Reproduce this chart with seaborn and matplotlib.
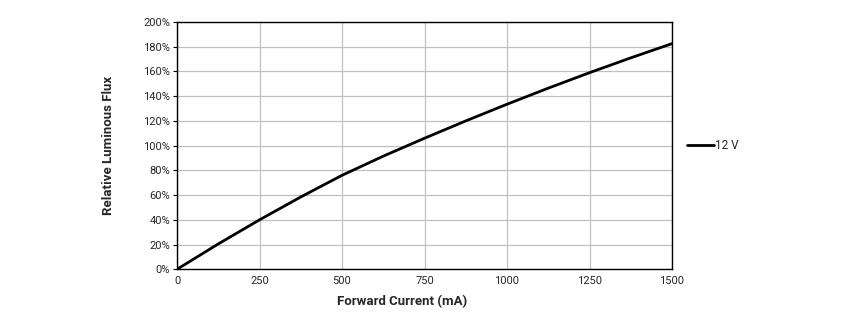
import matplotlib
matplotlib.use("Agg")
import matplotlib.pyplot as plt
import seaborn as sns
import pandas as pd
from matplotlib.ticker import FuncFormatter, MultipleLocator

current_ma = [0, 125, 250, 375, 500, 625, 750, 875, 1000, 1125, 1250, 1375, 1500]
rel_flux_pct = [0, 20.5, 40, 58.5, 76, 91.5, 106, 120, 133.5, 146.5, 159, 171, 182.5]
series_name = "12 V"

df = pd.DataFrame({"current": current_ma, "flux": rel_flux_pct, "series": series_name})

sns.set_style("white")
plt.rcParams['font.family'] = ['Roboto', 'DejaVu Sans']

fig = plt.figure(figsize=(8.46, 3.26), dpi=100)
ax = fig.add_axes([177/846, 1-269.3/326, (672-177)/846, (269.3-22)/326])

sns.lineplot(data=df, x="current", y="flux", hue="series", palette=["black"],
             linewidth=2.0, ax=ax)

ax.set_xlim(0, 1500)
ax.set_ylim(0, 200)
ax.xaxis.set_major_locator(MultipleLocator(250))
ax.yaxis.set_major_locator(MultipleLocator(20))
ax.yaxis.set_major_formatter(FuncFormatter(lambda v, p: f"{v:.0f}%"))
ax.grid(True, color="#c0c0c0", linewidth=0.9)
ax.set_axisbelow(True)
for s in ax.spines.values():
    s.set_color("black")
    s.set_linewidth(1.0)
    s.set_visible(True)
ax.tick_params(axis="y", length=3, width=0.8, color="black", labelsize=8, pad=2, left=True)
ax.tick_params(axis="x", length=0, labelsize=8, pad=5)
ax.set_xlabel("Forward Current (mA)", fontsize=9.5, fontweight="bold", labelpad=6)
ax.xaxis.set_label_coords(0.4545, -0.105)
ax.set_ylabel("Relative Luminous Flux", fontsize=9.5, fontweight="bold", labelpad=20)

leg = ax.legend(loc="center left", bbox_to_anchor=(1.009, 0.5), frameon=False,
                handlelength=2.3, handletextpad=0.1, fontsize=8.5)
for line in leg.get_lines():
    line.set_linewidth(2.0)

fig.savefig("out.png", dpi=100)
